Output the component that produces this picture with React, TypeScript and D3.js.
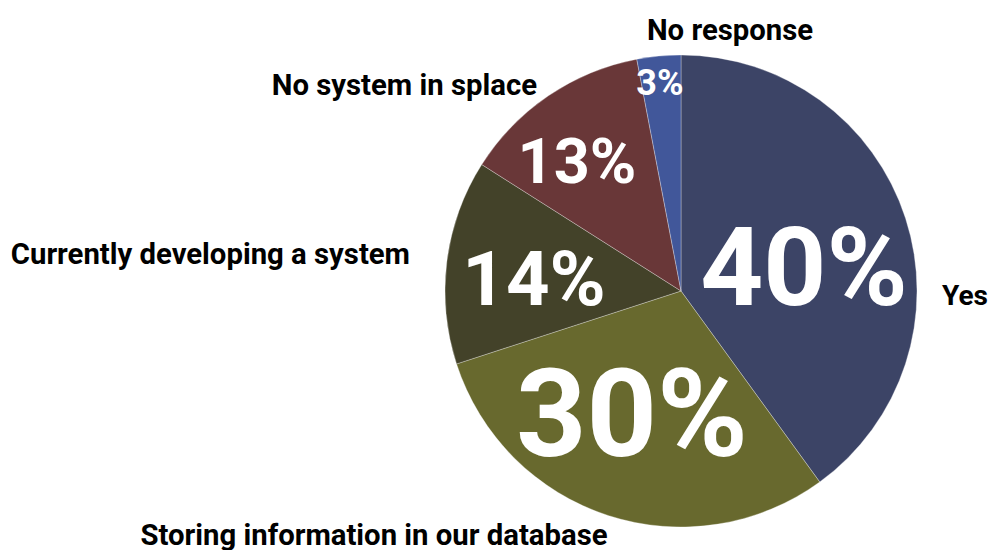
import { useEffect } from "react";
import * as d3 from "d3";

// slices, clockwise from 12 o'clock
const categories = [
  "Yes",
  "Storing information in our database",
  "Currently developing a system",
  "No system in splace",
  "No response",
];
const values = [40, 30, 14, 13, 3];
const colors = ["#3c4466", "#68692e", "#434229", "#693738", "#41579a"];

// percent labels: font size and baseline offset from the pie centre (px)
const pctFont = [110, 123, 76, 63, 36];
const pctDx = [123, -49, -147, -104, -21];
const pctDy = [14, 165, 14, -108, -196];

// category labels: offset from centre (px) and anchor
const catDx = [261, -307, -271, -144, 49];
const catDy = [14, 254, -27, -196, -251];
const catAnchor = ["start", "middle", "end", "end", "middle"];

const W = 989;
const H = 550;
const cx = 681;
const cy = 291;
const R = 236;

export default function App() {
  useEffect(() => {
    document.body.style.margin = "0";
  }, []);

  const pie = d3
    .pie<number>()
    .sort(null)
    .value((d) => d);
  const arcs = pie(values);
  const arc = d3.arc<d3.PieArcDatum<number>>().innerRadius(0).outerRadius(R);

  return (
    <svg width={W} height={H} style={{ display: "block", fontFamily: "Roboto, sans-serif" }}>
      <g transform={`translate(${cx},${cy})`}>
        {arcs.map((a, i) => (
          <path
            key={i}
            d={arc(a) || ""}
            fill={colors[i]}
            stroke="rgba(255,255,255,0.4)"
            strokeWidth={0.75}
          />
        ))}
        {arcs.map((a, i) => (
          <text
            key={"p" + i}
            x={pctDx[i]}
            y={pctDy[i]}
            textAnchor="middle"
            fill="#fff"
            fontWeight={700}
            fontSize={pctFont[i]}
          >
            {a.data}%
          </text>
        ))}
        {categories.map((c, i) => (
          <text
            key={"c" + i}
            x={catDx[i]}
            y={catDy[i]}
            textAnchor={catAnchor[i] as "start" | "middle" | "end"}
            fill="#000"
            fontWeight={700}
            fontSize={i === 0 ? 28 : 29.3}
          >
            {c}
          </text>
        ))}
      </g>
    </svg>
  );
}
